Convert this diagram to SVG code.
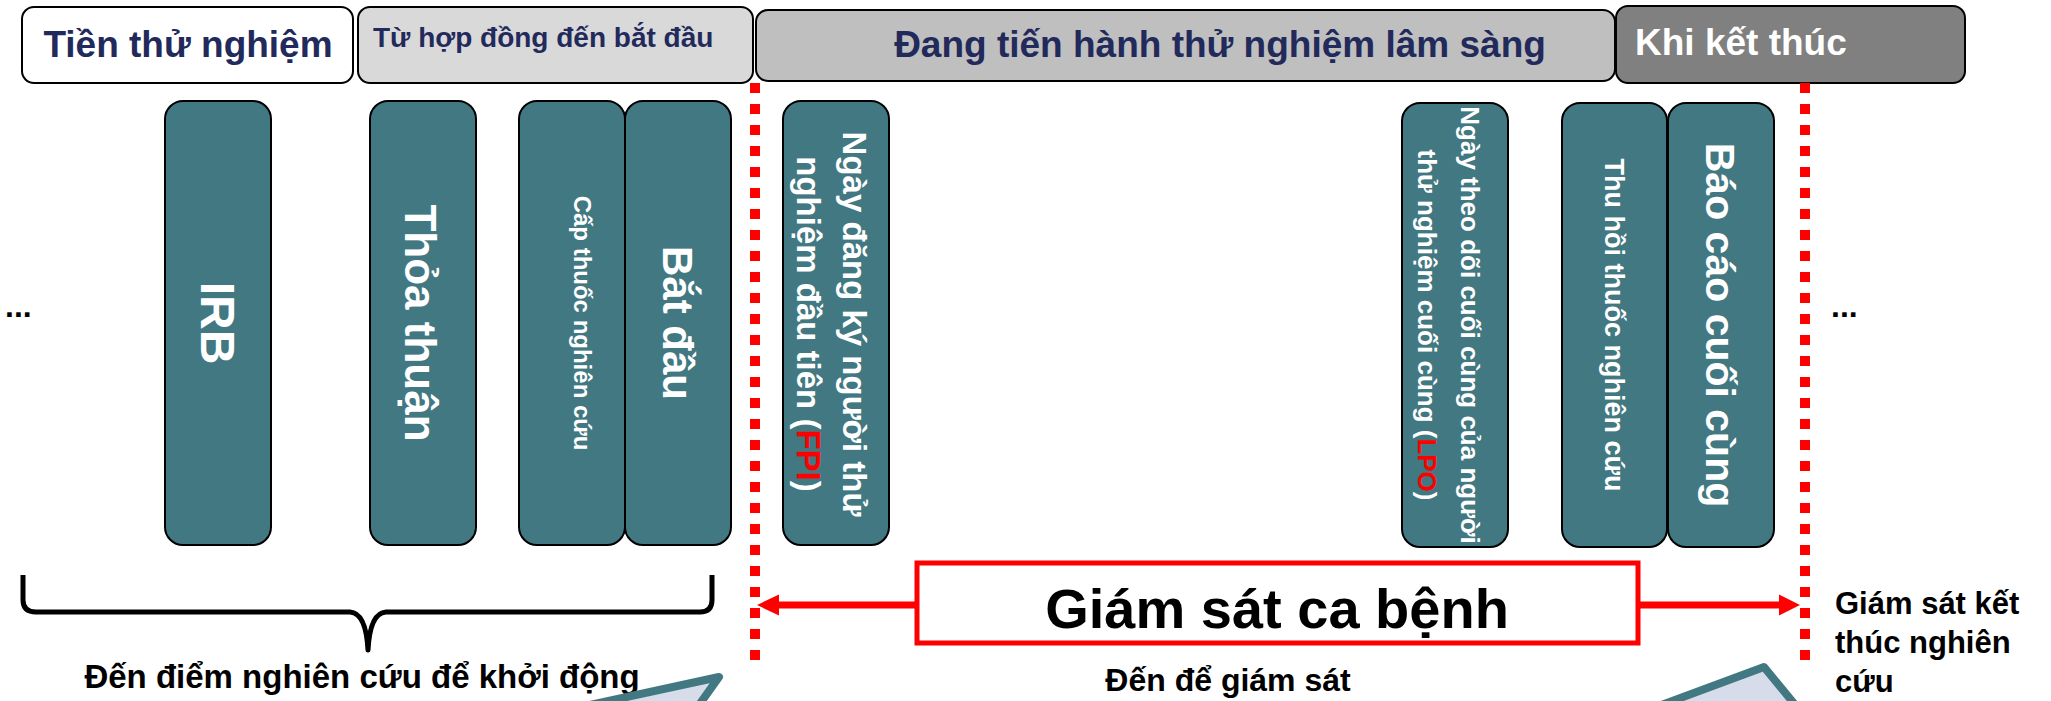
<svg xmlns="http://www.w3.org/2000/svg" width="2051" height="701" viewBox="0 0 2051 701">
  <style>
    text { font-family: "Liberation Sans", Arial, sans-serif; font-weight: bold; }
    .hdr { stroke: #000; stroke-width: 2; }
    .hdr-text { fill: #222A5B; }
    .step { fill: #427882; stroke: #000; stroke-width: 2; }
    .step-text { fill: #fff; text-anchor: middle; }
    .hl { fill: #FF0000; }
    .label { fill: #000; }
    .phase-line { stroke: #FF0000; stroke-width: 10; stroke-dasharray: 10 11; fill: none; }
    .pointer { fill: #D6DCEA; stroke: #427882; stroke-width: 8; stroke-linejoin: round; }
  </style>

  <!-- phase headers -->
  <g id="hdr-pre">
    <rect class="hdr" x="22" y="7" width="331" height="76" rx="12" fill="#FFFFFF"/>
    <text class="hdr-text" x="188" y="57" font-size="37" text-anchor="middle">Tiền thử nghiệm</text>
  </g>
  <g id="hdr-contract">
    <rect class="hdr" x="358" y="7" width="395" height="76" rx="12" fill="#D9D9D9"/>
    <text class="hdr-text" x="373" y="47" font-size="28">Từ hợp đồng đến bắt đầu</text>
  </g>
  <g id="hdr-ongoing">
    <rect class="hdr" x="756" y="10" width="859" height="71" rx="12" fill="#BFBFBF"/>
    <text class="hdr-text" x="1220" y="57" font-size="37" text-anchor="middle">Đang tiến hành thử nghiệm lâm sàng</text>
  </g>
  <g id="hdr-close">
    <rect class="hdr" x="1616" y="6" width="349" height="77" rx="12" fill="#808080"/>
    <text x="1635" y="55" font-size="37" fill="#FFFFFF">Khi kết thúc</text>
  </g>

  <!-- ellipses at both ends of the timeline -->
  <text class="label" x="5" y="317" font-size="32">...</text>
  <text class="label" x="1831" y="317" font-size="32">...</text>

  <!-- milestone columns -->
  <g id="irb">
    <rect class="step" x="165" y="101" width="106" height="444" rx="18"/>
    <text class="step-text" font-size="48" transform="translate(201,323) rotate(90)">IRB</text>
  </g>
  <g id="agreement">
    <rect class="step" x="370" y="101" width="106" height="444" rx="18"/>
    <text class="step-text" font-size="44" transform="translate(405,323) rotate(90)">Thỏa thuận</text>
  </g>
  <g id="drug-supply">
    <rect class="step" x="519" y="101" width="106" height="444" rx="18"/>
    <text class="step-text" font-size="24" transform="translate(574,323) rotate(90)">Cấp thuốc nghiên cứu</text>
  </g>
  <g id="start">
    <rect class="step" x="625" y="101" width="106" height="444" rx="18"/>
    <text class="step-text" font-size="42" transform="translate(663,323) rotate(90)">Bắt đầu</text>
  </g>
  <g id="fpi">
    <rect class="step" x="783" y="101" width="106" height="444" rx="18"/>
    <text class="step-text" font-size="33" transform="translate(843,324) rotate(90)">Ngày đăng ký người thử</text>
    <text class="step-text" font-size="33" transform="translate(797,324) rotate(90)">nghiệm đầu tiên (<tspan class="hl">FPI</tspan>)</text>
  </g>
  <g id="lpo">
    <rect class="step" x="1402" y="103" width="106" height="444" rx="18"/>
    <text class="step-text" font-size="26" transform="translate(1461,325) rotate(90)">Ngày theo dõi cuối cùng của người</text>
    <text class="step-text" font-size="26" transform="translate(1418,325) rotate(90)">thử nghiệm cuối cùng (<tspan class="hl">LPO</tspan>)</text>
  </g>
  <g id="drug-return">
    <rect class="step" x="1562" y="103" width="105" height="444" rx="18"/>
    <text class="step-text" font-size="27" transform="translate(1605,325) rotate(90)">Thu hồi thuốc nghiên cứu</text>
  </g>
  <g id="final-report">
    <rect class="step" x="1668" y="103" width="106" height="444" rx="18"/>
    <text class="step-text" font-size="41" transform="translate(1706,325) rotate(90)">Báo cáo cuối cùng</text>
  </g>

  <!-- monitoring box -->
  <g id="monitoring">
    <rect x="917" y="563" width="721" height="80" fill="#FFFFFF" stroke="#FF0000" stroke-width="5"/>
    <text class="label" x="1277" y="628" font-size="56" text-anchor="middle">Giám sát ca bệnh</text>
  </g>

  <!-- connectors: phase boundaries, monitoring span arrows, brace -->
  <g id="connectors">
    <line class="phase-line" x1="755" y1="83" x2="755" y2="661"/>
    <line class="phase-line" x1="1805" y1="83" x2="1805" y2="661"/>

    <line x1="917" y1="605" x2="776" y2="605" stroke="#FF0000" stroke-width="7"/>
    <polygon points="757,605 779,594.5 779,615.5" fill="#FF0000"/>
    <line x1="1638" y1="605" x2="1782" y2="605" stroke="#FF0000" stroke-width="7"/>
    <polygon points="1800,605 1779,594.5 1779,615.5" fill="#FF0000"/>

    <path d="M23,575 L23,600 Q23,612 36,612 L350,612 Q366,613 368,650 Q370,613 386,612 L700,612 Q712,612 712,600 L712,575"
          fill="none" stroke="#000" stroke-width="5" stroke-linejoin="round"/>
  </g>

  <!-- labels under the timeline -->
  <text class="label" x="362" y="688" font-size="33" text-anchor="middle">Đến điểm nghiên cứu để khởi động</text>
  <text class="label" x="1228" y="691" font-size="32" text-anchor="middle">Đến để giám sát</text>
  <text class="label" font-size="31">
    <tspan x="1835" y="614">Giám sát kết</tspan>
    <tspan x="1835" y="653">thúc nghiên</tspan>
    <tspan x="1835" y="692">cứu</tspan>
  </text>

  <!-- callout pointers rising from below -->
  <polygon class="pointer" points="719,677 428,740 674,740"/>
  <polygon class="pointer" points="1764,667 1567,740 1824,740"/>
</svg>
